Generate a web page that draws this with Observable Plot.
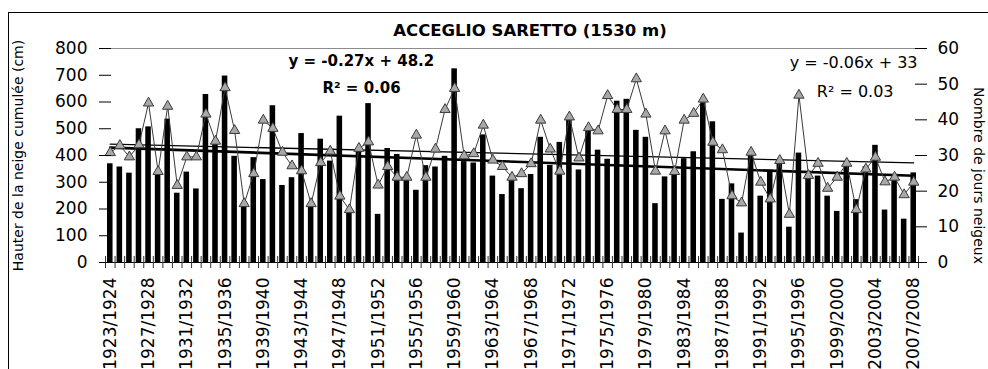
<!DOCTYPE html>
<html><head><meta charset="utf-8">
<script src="https://cdn.jsdelivr.net/npm/d3@7"></script>
<script src="https://cdn.jsdelivr.net/npm/@observablehq/plot@0.6"></script>
<style>
body{margin:0;background:#fff;}
#wrap{position:relative;width:988px;height:369px;overflow:hidden;}
#wrap svg{display:block;position:absolute;left:0;top:0;}
#frame{position:absolute;left:8px;top:12px;width:1100px;height:500px;border:1px solid #000;pointer-events:none;}
</style></head><body>
<div id="wrap"><div id="frame"></div></div>
<script>
const seasons = [
"1923/1924","1924/1925","1925/1926","1926/1927","1927/1928","1928/1929","1929/1930","1930/1931","1931/1932","1932/1933",
"1933/1934","1934/1935","1935/1936","1936/1937","1937/1938","1938/1939","1939/1940","1940/1941","1941/1942","1942/1943",
"1943/1944","1944/1945","1945/1946","1946/1947","1947/1948","1948/1949","1949/1950","1950/1951","1951/1952","1952/1953",
"1953/1954","1954/1955","1955/1956","1956/1957","1957/1958","1958/1959","1959/1960","1960/1961","1961/1962","1962/1963",
"1963/1964","1964/1965","1965/1966","1966/1967","1967/1968","1968/1969","1969/1970","1970/1971","1971/1972","1972/1973",
"1973/1974","1974/1975","1975/1976","1976/1977","1977/1978","1978/1979","1979/1980","1980/1981","1981/1982","1982/1983",
"1983/1984","1984/1985","1985/1986","1986/1987","1987/1988","1988/1989","1989/1990","1990/1991","1991/1992","1992/1993",
"1993/1994","1994/1995","1995/1996","1996/1997","1997/1998","1998/1999","1999/2000","2000/2001","2001/2002","2002/2003",
"2003/2004","2004/2005","2005/2006","2006/2007","2007/2008"];

// Hauteur de neige cumulée (cm) — left axis
const snowCm = [
369,357,334,500,507,330,536,259,338,275,
628,450,697,397,215,392,310,586,288,317,
482,206,461,379,547,192,425,594,180,426,
404,310,270,362,357,397,724,377,372,477,
323,254,318,276,329,468,363,449,538,346,
507,420,386,603,610,494,468,220,320,332,
388,414,597,526,236,294,110,412,248,345,
380,132,409,329,323,248,191,368,235,358,
438,196,328,162,335];

// Nombre de jours neigeux — right axis
const snowDays = [
30.8,32.8,29.6,33.0,44.7,25.5,43.8,21.6,29.6,29.6,
41.6,34.0,49.0,37.0,16.5,24.9,39.9,37.6,30.9,27.1,
25.7,16.5,28.0,31.2,18.6,14.8,32.0,33.8,21.7,26.9,
23.9,23.9,35.7,23.9,31.8,42.9,48.8,29.9,30.5,38.5,
28.7,26.9,23.9,24.9,27.7,39.9,31.8,25.6,40.8,29.3,
37.8,36.9,46.8,42.9,42.9,51.5,41.6,25.6,36.9,25.5,
39.9,41.8,45.8,33.7,31.6,18.7,16.7,30.9,22.5,17.8,
28.6,13.5,46.9,24.4,27.8,20.8,23.9,27.8,14.8,26.2,
29.5,22.6,23.9,19.0,22.5];

const tickLabels = ["1923/1924","1927/1928","1931/1932","1935/1936","1939/1940","1943/1944","1947/1948","1951/1952",
"1955/1956","1959/1960","1963/1964","1967/1968","1971/1972","1975/1976","1979/1980","1983/1984","1987/1988",
"1991/1992","1995/1996","1999/2000","2003/2004","2007/2008"];
const leftTicks = [0,100,200,300,400,500,600,700,800];
const rightTicks = [0,10,20,30,40,50,60];

const title = "ACCEGLIO SARETTO (1530 m)";
const leftTitle = "Hauter de la neige cumulée (cm)";
const rightTitle = "Nombre de jours neigeux";
const eq1 = "y = -0.27x + 48.2";
const r1 = "R² = 0.06";
const eq2 = "y = -0.06x + 33";
const r2 = "R² = 0.03";

const W = 988, H = 369, mL = 105, mR = 70, mT = 48, mB = 107;
const yMax = 800, dMax = 60, k = yMax / dMax;
const step = (W - mL - mR) / seasons.length;

const data = seasons.map((s, i) => ({season: s, snow: snowCm[i], daysY: snowDays[i] * k}));

function fit(vals) {
  const xs = d3.range(vals.length);
  const mx = d3.mean(xs), my = d3.mean(vals);
  let sxy = 0, sxx = 0;
  xs.forEach((x, j) => { sxy += (x - mx) * (vals[j] - my); sxx += (x - mx) ** 2; });
  const b = sxy / sxx, a = my - b * mx;
  return x => a + b * x;
}
const fs = fit(snowCm), fd = fit(snowDays);
const ends = [0, seasons.length - 1];
const trendSnow = ends.map(i => ({season: seasons[i], y: fs(i)}));
const trendDays = ends.map(i => ({season: seasons[i], y: fd(i) * k}));

const FONT = '"DejaVu Sans", sans-serif';

const chart = Plot.plot({
  width: W, height: H,
  marginLeft: mL, marginRight: mR, marginTop: mT, marginBottom: mB,
  style: {fontFamily: FONT, fontSize: "17px", color: "#000", background: "transparent", overflow: "visible"},
  x: {domain: seasons, paddingInner: 0.42, paddingOuter: 0.21, axis: null, label: null},
  y: {domain: [0, yMax], axis: null, label: null},
  marks: [
    Plot.ruleY([yMax], {stroke: "#8c8c8c", strokeWidth: 1}),
    Plot.barY(data, {x: "season", y: "snow", fill: "#000"}),
    Plot.line(trendSnow, {x: "season", y: "y", stroke: "#000", strokeWidth: 2.6}),
    Plot.line(trendDays, {x: "season", y: "y", stroke: "#000", strokeWidth: 1.3}),
    Plot.line(data, {x: "season", y: "daysY", stroke: "#3a3a3a", strokeWidth: 1}),
    Plot.dot(data, {x: "season", y: "daysY", symbol: "triangle", r: 3.8, fill: "#a8a8a8", stroke: "#3a3a3a", strokeWidth: 1}),
    Plot.ruleY([0], {stroke: "#000", strokeWidth: 1}),
    // x tick marks at category boundaries, crossing the axis
    Plot.axisX({ticks: seasons, tickSize: 12, dy: -6, dx: -step / 2, text: null, label: null, stroke: "#333"}),
    Plot.axisX({ticks: [seasons[seasons.length - 1]], tickSize: 12, dy: -6, dx: step / 2, text: null, label: null, stroke: "#333"}),
    Plot.axisX({ticks: tickLabels, tickSize: 0, tickPadding: 15, tickRotate: -90, fontSize: 17, fill: "#000", label: null}),
    // left axis
    Plot.axisY({anchor: "left", ticks: leftTicks, tickSize: 0, line: true, text: null, label: null, stroke: "#000"}),
    Plot.axisY({anchor: "left", ticks: leftTicks, tickSize: 12, dx: 6, text: null, label: null, stroke: "#000"}),
    Plot.axisY({anchor: "left", ticks: leftTicks, tickSize: 0, tickPadding: 18, fontSize: 17, tickFormat: d => d, fill: "#000", label: null}),
    // right axis (days, mapped onto the same pixel range)
    Plot.axisY({anchor: "right", ticks: rightTicks.map(d => d * k), tickSize: 0, line: true, text: null, label: null, stroke: "#000"}),
    Plot.axisY({anchor: "right", ticks: rightTicks.map(d => d * k), tickSize: 12, dx: -4, text: null, label: null, stroke: "#000"}),
    Plot.axisY({anchor: "right", ticks: rightTicks.map(d => d * k), tickSize: 0, tickPadding: 19, fontSize: 17,
      tickFormat: d => Math.round(d / k), fill: "#000", label: null}),
    // titles and annotations
    Plot.text([title], {text: d => d, frameAnchor: "top", dx: 18, dy: -18, fontWeight: "bold", fontSize: 16.5, lineAnchor: "middle"}),
    Plot.text([leftTitle], {text: d => d, frameAnchor: "left", rotate: -90, dx: -87, textAnchor: "middle", lineAnchor: "middle", fontSize: 14}),
    Plot.text([rightTitle], {text: d => d, frameAnchor: "right", rotate: 90, dx: 60, dy: 20, textAnchor: "middle", lineAnchor: "middle", fontSize: 14}),
    Plot.text([eq1], {text: d => d, frameAnchor: "top-left", textAnchor: "start", lineAnchor: "middle", dx: 183, dy: 13, fontWeight: "bold", fontSize: 15}),
    Plot.text([r1], {text: d => d, frameAnchor: "top-left", textAnchor: "start", lineAnchor: "middle", dx: 217, dy: 40, fontWeight: "bold", fontSize: 15}),
    Plot.text([eq2], {text: d => d, frameAnchor: "top-right", textAnchor: "end", lineAnchor: "middle", dx: -1, dy: 14, fontSize: 16}),
    Plot.text([r2], {text: d => d, frameAnchor: "top-right", textAnchor: "end", lineAnchor: "middle", dx: -25, dy: 43, fontSize: 16})
  ]
});
document.getElementById("wrap").prepend(chart);
</script>
</body></html>
